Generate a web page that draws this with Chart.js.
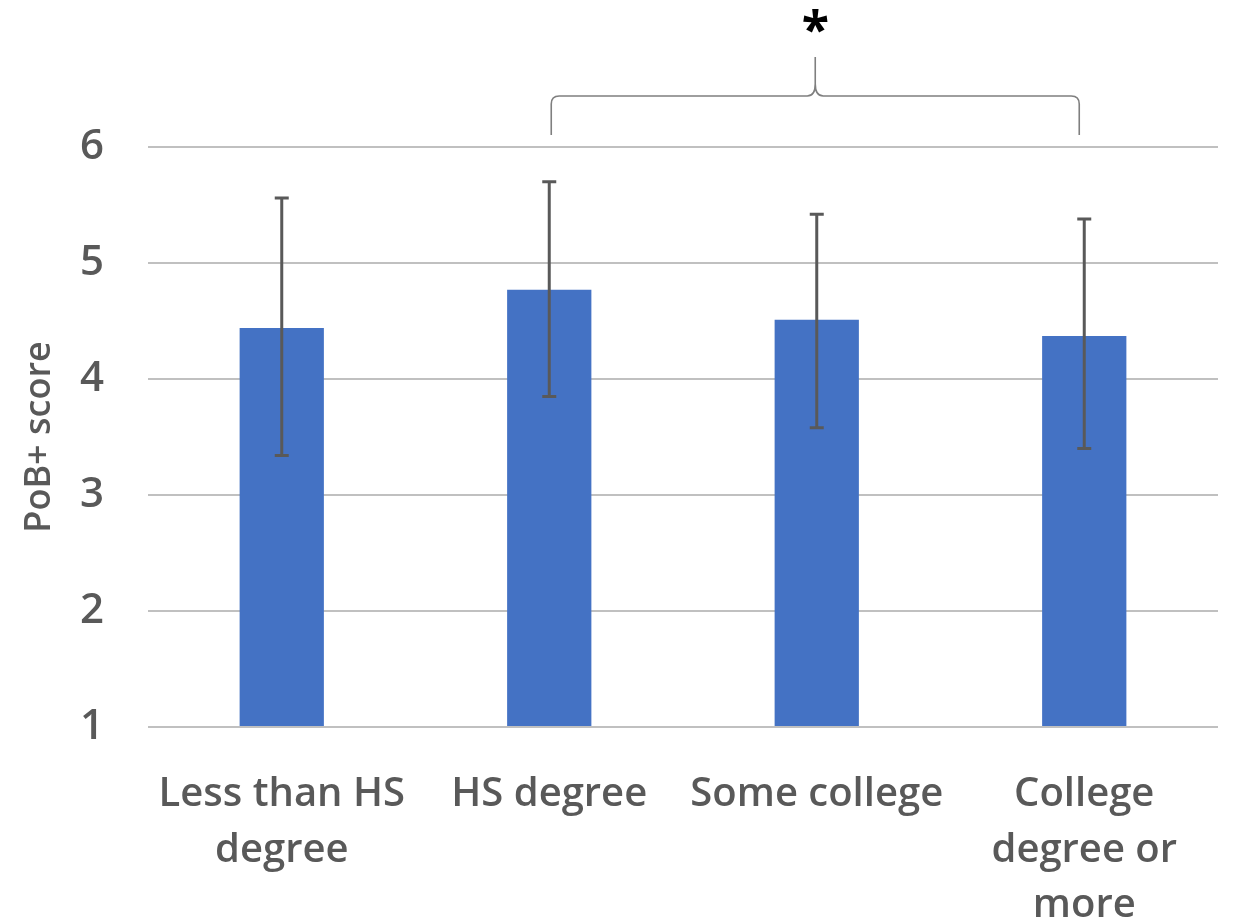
<!DOCTYPE html>
<html lang="en">
  <head>
    <meta charset="utf-8" />
    <script src="https://cdn.jsdelivr.net/npm/chart.js"></script>
    <style>
      html, body { margin: 0; padding: 0; background: #fff; }
      #wrap { width: 1233px; height: 923px; }
    </style>
  </head>
  <body>
    <div id="wrap"><canvas id="myChart" width="1233" height="923"></canvas></div>
    <script>
      const categories = [
        ["Less than HS", "degree"],
        ["HS degree"],
        ["Some college"],
        ["College", "degree or", "more"],
      ];
      const meanScores = [4.44, 4.77, 4.51, 4.37];
      const errorUpper = [5.56, 5.70, 5.42, 5.38];
      const errorLower = [3.34, 3.85, 3.58, 3.40];
      const yTicks = [1, 2, 3, 4, 5, 6];
      // brace spans from the 2nd to the 4th category
      const braceFrom = 1;
      const braceTo = 3;
      const braceLabel = "*";

      const FONT = "'Open Sans', Lato, sans-serif";
      const TEXT = "#595959";

      const errorBars = {
        id: "errorBars",
        afterDatasetsDraw(chart) {
          const ctx = chart.ctx;
          const y = chart.scales.y;
          const meta = chart.getDatasetMeta(0);
          ctx.save();
          ctx.strokeStyle = "#595959";
          ctx.lineWidth = 3;
          meta.data.forEach((bar, i) => {
            const top = y.getPixelForValue(errorUpper[i]);
            const bot = y.getPixelForValue(errorLower[i]);
            ctx.beginPath();
            ctx.moveTo(bar.x, top);
            ctx.lineTo(bar.x, bot);
            ctx.moveTo(bar.x - 7, top);
            ctx.lineTo(bar.x + 7, top);
            ctx.moveTo(bar.x - 7, bot);
            ctx.lineTo(bar.x + 7, bot);
            ctx.stroke();
          });
          ctx.restore();
        },
      };

      const brace = {
        id: "brace",
        afterDraw(chart) {
          const ctx = chart.ctx;
          const x = chart.scales.x;
          const top = chart.chartArea.top;
          const x1 = x.getPixelForValue(braceFrom) + 2;
          const x2 = x.getPixelForValue(braceTo) - 5;
          const mid = (x1 + x2) / 2;
          const yEnd = top - 12;
          const yBar = top - 51;
          const yTip = top - 90;
          const r = 8;
          ctx.save();
          ctx.strokeStyle = "#7f7f7f";
          ctx.lineWidth = 1.6;
          ctx.beginPath();
          ctx.moveTo(x1, yEnd);
          ctx.lineTo(x1, yBar + r);
          ctx.quadraticCurveTo(x1, yBar, x1 + r, yBar);
          ctx.lineTo(mid - r, yBar);
          ctx.quadraticCurveTo(mid, yBar, mid, yBar - r * 1.5);
          ctx.lineTo(mid, yTip);
          ctx.moveTo(mid, yBar - r * 1.5);
          ctx.quadraticCurveTo(mid, yBar, mid + r, yBar);
          ctx.lineTo(x2 - r, yBar);
          ctx.quadraticCurveTo(x2, yBar, x2, yBar + r);
          ctx.lineTo(x2, yEnd);
          ctx.stroke();
          ctx.fillStyle = "#000";
          ctx.font = "bold 50px " + FONT;
          ctx.textAlign = "center";
          ctx.textBaseline = "middle";
          ctx.fillText(braceLabel, mid, top - 114);
          ctx.restore();
        },
      };

      const ctx = document.getElementById("myChart").getContext("2d");
      const myChart = new Chart(ctx, {
        type: "bar",
        data: {
          labels: categories,
          datasets: [
            {
              label: "PoB+ score",
              data: meanScores,
              backgroundColor: "#4472C4",
              borderWidth: 0,
              barPercentage: 0.315,
              categoryPercentage: 1,
              base: 1,
            },
          ],
        },
        options: {
          responsive: false,
          animation: false,
          layout: { padding: { top: 147, right: 15, bottom: 0, left: 0 } },
          plugins: {
            legend: { display: false },
            tooltip: { enabled: false },
          },
          scales: {
            x: {
              grid: { display: false },
              border: { display: false },
              afterFit(scale) { scale.height = 196; },
              ticks: {
                maxRotation: 0,
                minRotation: 0,
                autoSkip: false,
                padding: 32,
                color: TEXT,
                font: { family: FONT, size: 40, weight: "600", lineHeight: 1.39 },
              },
            },
            y: {
              min: 1,
              max: 6,
              afterFit(scale) { scale.width = 148; },
              afterBuildTicks(scale) {
                scale.ticks = yTicks.map((v) => ({ value: v }));
              },
              border: { display: false },
              grid: {
                color: "#c0c0c0",
                lineWidth: 2,
                drawTicks: false,
              },
              ticks: {
                padding: 44,
                color: TEXT,
                font: { family: FONT, size: 42, weight: "600" },
              },
              title: {
                display: true,
                text: "PoB+ score",
                color: TEXT,
                padding: { top: 18, bottom: 0 },
                font: { family: FONT, size: 36, weight: "600" },
              },
            },
          },
        },
        plugins: [errorBars, brace],
      });
    </script>
  </body>
</html>
